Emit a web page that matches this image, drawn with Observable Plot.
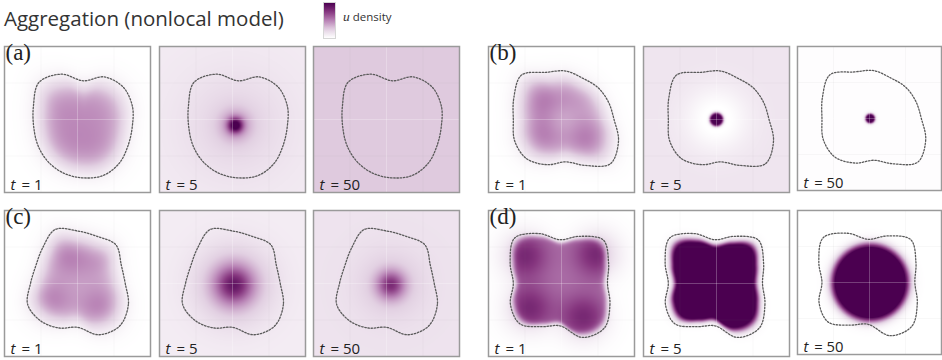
<!DOCTYPE html>
<html><head><meta charset="utf-8">
<script src="https://cdn.jsdelivr.net/npm/d3@7"></script>
<script src="https://cdn.jsdelivr.net/npm/@observablehq/plot@0.6"></script>
<style>
body{margin:0;background:#fff;}
#root{position:relative;width:942px;height:360px;overflow:hidden;font-family:"Open Sans",sans-serif;}
.title{position:absolute;left:4px;top:7px;font-size:20.5px;line-height:22px;color:#333;white-space:nowrap;}
.legbar{position:absolute;left:323px;top:2px;width:11px;height:35px;border:1px solid #d6d6d6;}
.leglab{position:absolute;left:343px;top:9px;font-size:11.5px;color:#333;white-space:nowrap;}
.panel{position:absolute;}
</style></head><body><div id="root"></div>
<script>
// ---------- data ----------
const titleText = "Aggregation (nonlocal model)";
const legendText = "density";
const groupLabels = ["(a)", "(b)", "(c)", "(d)"];
const times = [1, 5, 50];
const colorStops = ["#ffffff", "#e2d0e2", "#b882b5", "#86367f", "#4b0050"];

// dashed initial-domain outlines: centre + radii at 16 equally spaced angles (0 = right, clockwise)
const centerA = [0.54, 0.55];
const contourA = [0.335, 0.332, 0.35, 0.36, 0.35, 0.345, 0.34, 0.336, 0.34, 0.37, 0.43, 0.39, 0.315, 0.37, 0.385, 0.364];
const centerB = [0.53, 0.50];
const contourB = [0.33, 0.39, 0.43, 0.34, 0.29, 0.335, 0.38, 0.38, 0.36, 0.386, 0.43, 0.35, 0.332, 0.305, 0.31, 0.315];
const centerC = [0.50, 0.50];
const contourC = [0.327, 0.377, 0.41, 0.38, 0.30, 0.33, 0.36, 0.37, 0.322, 0.31, 0.34, 0.40, 0.36, 0.35, 0.373, 0.325];
const centerD = [0.49, 0.50];
const contourD = [0.325, 0.37, 0.43, 0.40, 0.29, 0.32, 0.39, 0.368, 0.32, 0.37, 0.44, 0.37, 0.30, 0.35, 0.42, 0.36];

// density fields: base level, shape fill [amp, inset, softness], blobs [x, y, sigma, amp], discs [x, y, r, amp, softness]
const fieldA1 = {base: 0, shape: [0.38, 0.8, 0.12], blobs: [[0.38, 0.42, 0.12, 0.07], [0.64, 0.42, 0.12, 0.06], [0.42, 0.65, 0.12, 0.07], [0.63, 0.67, 0.12, 0.07]], discs: []};
const fieldA5 = {base: 0.11, shape: null, blobs: [[0.52, 0.54, 0.25, 0.12], [0.52, 0.54, 0.08, 0.24], [0.52, 0.54, 0.035, 0.7]], discs: []};
const fieldA50 = {base: 0.27, shape: null, blobs: [], discs: []};
const fieldB1 = {base: 0, shape: [0.36, 0.8, 0.11], blobs: [[0.36, 0.37, 0.1, 0.16], [0.37, 0.61, 0.1, 0.16], [0.67, 0.63, 0.1, 0.16], [0.58, 0.35, 0.1, 0.08], [0.5, 0.5, 0.08, -0.06]], discs: []};
const fieldB5 = {base: 0.14, shape: null, blobs: [[0.5, 0.5, 0.15, -0.17]], discs: [[0.5, 0.5, 0.045, 1.2, 0.006]]};
const fieldB50 = {base: 0.01, shape: null, blobs: [], discs: [[0.505, 0.5, 0.032, 1.2, 0.005]]};
const fieldC1 = {base: 0, shape: [0.36, 0.8, 0.11], blobs: [[0.43, 0.31, 0.1, 0.14], [0.32, 0.62, 0.1, 0.15], [0.65, 0.66, 0.1, 0.15], [0.62, 0.33, 0.1, 0.08]], discs: []};
const fieldC5 = {base: 0.1, shape: null, blobs: [[0.51, 0.51, 0.17, 0.32], [0.51, 0.51, 0.085, 0.48]], discs: []};
const fieldC50 = {base: 0.15, shape: null, blobs: [[0.53, 0.51, 0.15, 0.15], [0.53, 0.51, 0.065, 0.5]], discs: []};
const fieldD1 = {base: 0, shape: [0.55, 0.93, 0.03], blobs: [[0.25, 0.31, 0.11, 0.26], [0.74, 0.30, 0.11, 0.26], [0.28, 0.67, 0.11, 0.26], [0.65, 0.73, 0.11, 0.26]], discs: []};
const fieldD5 = {base: 0, shape: [1.3, 0.86, 0.04], blobs: [], discs: []};
const fieldD50 = {base: 0, shape: null, blobs: [], discs: [[0.505, 0.5, 0.265, 1.3, 0.018]]};

// ---------- assembly ----------
const groups = [
  {label: groupLabels[0], center: centerA, radii: contourA, fields: [fieldA1, fieldA5, fieldA50]},
  {label: groupLabels[1], center: centerB, radii: contourB, fields: [fieldB1, fieldB5, fieldB50]},
  {label: groupLabels[2], center: centerC, radii: contourC, fields: [fieldC1, fieldC5, fieldC50]},
  {label: groupLabels[3], center: centerD, radii: contourD, fields: [fieldD1, fieldD5, fieldD50]}
];
const groupX = [3, 487, 3, 487];
const groupY = [45, 45, 209, 209];
const colStep = [0, 155, 309];
const size = 148;

const interp = d3.piecewise(d3.interpolateRgb, colorStops);

function cr(p0, p1, p2, p3, f) {
  return 0.5 * (2 * p1 + (-p0 + p2) * f + (2 * p0 - 5 * p1 + 4 * p2 - p3) * f * f + (-p0 + 3 * p1 - 3 * p2 + p3) * f * f * f);
}
function radiusAt(radii, th) {
  const n = radii.length;
  const t = th / (2 * Math.PI) * n;
  const i = Math.floor(t);
  const f = t - i;
  const g = k => radii[((k % n) + n) % n];
  return cr(g(i - 1), g(i), g(i + 1), g(i + 2), f);
}
function makeField(spec, center, radii) {
  return (x, y) => {
    let v = spec.base;
    if (spec.shape) {
      const [amp, k, w] = spec.shape;
      const dx = x - center[0], dy = y - center[1];
      const r = Math.hypot(dx, dy);
      let th = Math.atan2(dy, dx);
      if (th < 0) th += 2 * Math.PI;
      const R = radiusAt(radii, th);
      v += amp / (1 + Math.exp(-(k - r / R) / w));
    }
    for (const [bx, by, s, a] of spec.blobs) v += a * Math.exp(-((x - bx) ** 2 + (y - by) ** 2) / (2 * s * s));
    for (const [bx, by, r0, a, s] of spec.discs) v += a / (1 + Math.exp((Math.hypot(x - bx, y - by) - r0) / s));
    return Math.max(0, Math.min(1, v));
  };
}

const root = document.getElementById("root");
const title = document.createElement("div");
title.className = "title";
title.textContent = titleText;
root.appendChild(title);

const bar = document.createElement("div");
bar.className = "legbar";
bar.style.background = "linear-gradient(to top," + d3.range(0, 1.0001, 0.1).map(t => interp(t)).join(",") + ")";
root.appendChild(bar);
const lab = document.createElement("div");
lab.className = "leglab";
lab.innerHTML = '<span style="font-family:\'Liberation Serif\',serif;font-style:italic;font-size:13.5px">u</span> ' + legendText;
root.appendChild(lab);

groups.forEach((g, gi) => {
  const pts = g.radii.map((r, i) => {
    const th = i / g.radii.length * 2 * Math.PI;
    return {x: g.center[0] + r * Math.cos(th), y: g.center[1] + r * Math.sin(th)};
  });
  g.fields.forEach((spec, ti) => {
    const marks = [
      Plot.raster({fill: makeField(spec, g.center, g.radii), x1: 0, x2: 1, y1: 0, y2: 1, pixelSize: 1}),
      Plot.ruleX([0.25, 0.75], {stroke: "#888", strokeOpacity: 0.06}),
      Plot.ruleY([0.25, 0.75], {stroke: "#888", strokeOpacity: 0.06}),
      Plot.ruleX([0.5], {stroke: "#fff", strokeOpacity: 0.25}),
      Plot.ruleY([0.5], {stroke: "#fff", strokeOpacity: 0.25}),
      Plot.line(pts, {x: "x", y: "y", curve: "catmull-rom-closed", stroke: "#5a5a5a", strokeWidth: 1.3, strokeDasharray: "1.5,1.7"}),
      Plot.frame({stroke: "#9a9a9a", strokeWidth: 1.5}),
      Plot.text(["t"], {frameAnchor: "bottom-left", dx: 6, dy: -3, lineAnchor: "bottom", textAnchor: "start", fontStyle: "italic", fontSize: 15, fontFamily: "Open Sans", fill: "#222"}),
      Plot.text(["= " + times[ti]], {frameAnchor: "bottom-left", dx: 17, dy: -3, lineAnchor: "bottom", textAnchor: "start", fontSize: 15, fontFamily: "Open Sans", fill: "#222"})
    ];
    if (ti === 0) marks.push(Plot.text([g.label], {frameAnchor: "top-left", dx: 1, dy: -3, lineAnchor: "top", textAnchor: "start", fontSize: 23, fontFamily: "Liberation Serif", fill: "#222"}));
    const svg = Plot.plot({
      width: size, height: size, margin: 1,
      x: {domain: [0, 1], axis: null},
      y: {domain: [0, 1], reverse: true, axis: null},
      color: {type: "linear", domain: [0, 1], interpolate: interp},
      style: {background: "transparent", overflow: "visible"},
      marks
    });
    const wrap = document.createElement("div");
    wrap.className = "panel";
    wrap.style.left = (groupX[gi] + colStep[ti]) + "px";
    wrap.style.top = groupY[gi] + "px";
    wrap.appendChild(svg);
    root.appendChild(wrap);
  });
});
</script></body></html>
